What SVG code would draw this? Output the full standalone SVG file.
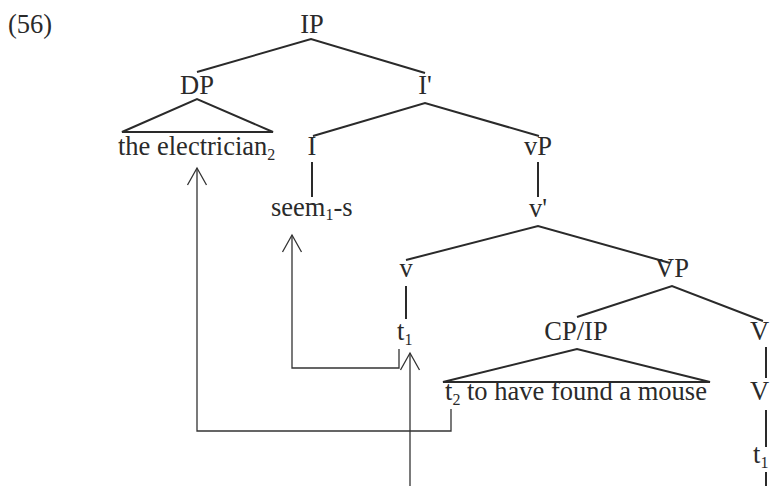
<svg xmlns="http://www.w3.org/2000/svg" width="770" height="486" viewBox="0 0 770 486">
<style>
text{font-family:"Liberation Serif","Times New Roman",serif;font-size:26.5px;fill:#2a2a2a}
.m{text-anchor:middle}
.sub{font-size:16px}
.tree{stroke:#2a2a2a;stroke-width:2;fill:none}
.mv{stroke:#333;stroke-width:1.3;fill:none}
</style>
<defs>
<marker id="ah" markerUnits="userSpaceOnUse" markerWidth="30" markerHeight="30" refX="0" refY="0" orient="auto" overflow="visible">
<path d="M -17 -9.5 L 0 0 L -17 9.5" fill="none" stroke="#333" stroke-width="1.3"/>
</marker>
</defs>
<rect width="770" height="486" fill="#fff"/>
<text x="8" y="33">(56)</text>
<g id="IP"><text class="m" x="312" y="33">IP</text></g>
<g id="DP"><text class="m" x="197" y="94">DP</text></g>
<g id="Ibar"><text class="m" x="425" y="94">I'</text></g>
<g id="electrician"><text x="118" y="155">the electrician<tspan class="sub" dy="5">2</tspan></text></g>
<g id="I"><text class="m" x="312" y="155">I</text></g>
<g id="vP"><text class="m" x="538" y="155">vP</text></g>
<g id="seem"><text x="271" y="216">seem<tspan class="sub" dy="4">1</tspan><tspan dy="-4">-s</tspan></text></g>
<g id="vbar"><text class="m" x="538" y="217">v'</text></g>
<g id="v"><text class="m" x="406" y="277">v</text></g>
<g id="VP"><text class="m" x="672" y="277">VP</text></g>
<g id="t1a"><text x="397" y="340">t<tspan class="sub" dy="5">1</tspan></text></g>
<g id="CPIP"><text class="m" x="576" y="340">CP/IP</text></g>
<g id="Vbar"><text x="750" y="340">V</text></g>
<g id="clause"><text x="445" y="400">t<tspan class="sub" dy="5">2</tspan><tspan dy="-5"> to have found a mouse</tspan></text></g>
<g id="V"><text x="750" y="400">V</text></g>
<g id="t1b"><text x="753" y="463">t<tspan class="sub" dy="5">1</tspan></text></g>
<g id="connectors">
<polyline class="tree" points="197,72 311,39 425,73"/>
<polygon class="tree" points="122,132 197,99 273,132"/>
<polyline class="tree" points="313,136 425,103 539,136"/>
<line class="tree" x1="312" y1="162" x2="312" y2="197"/>
<line class="tree" x1="538" y1="162" x2="538" y2="197"/>
<polyline class="tree" points="406,260 538,226 670,263"/>
<line class="tree" x1="406" y1="286" x2="406" y2="319"/>
<polyline class="tree" points="577,317 672,286 763,321"/>
<polygon class="tree" points="443,382 577,349 710,382"/>
<line class="tree" x1="766" y1="347" x2="766" y2="378"/>
<line class="tree" x1="766" y1="410" x2="766" y2="447"/>
<line class="tree" x1="766" y1="472" x2="766" y2="486"/>
<path class="mv" d="M451,409 V431 H197 V168" marker-end="url(#ah)"/>
<path class="mv" d="M399,349 V368 H292 V235" marker-end="url(#ah)"/>
<path class="mv" d="M410,486 V353" marker-end="url(#ah)"/>
</g>
</svg>
